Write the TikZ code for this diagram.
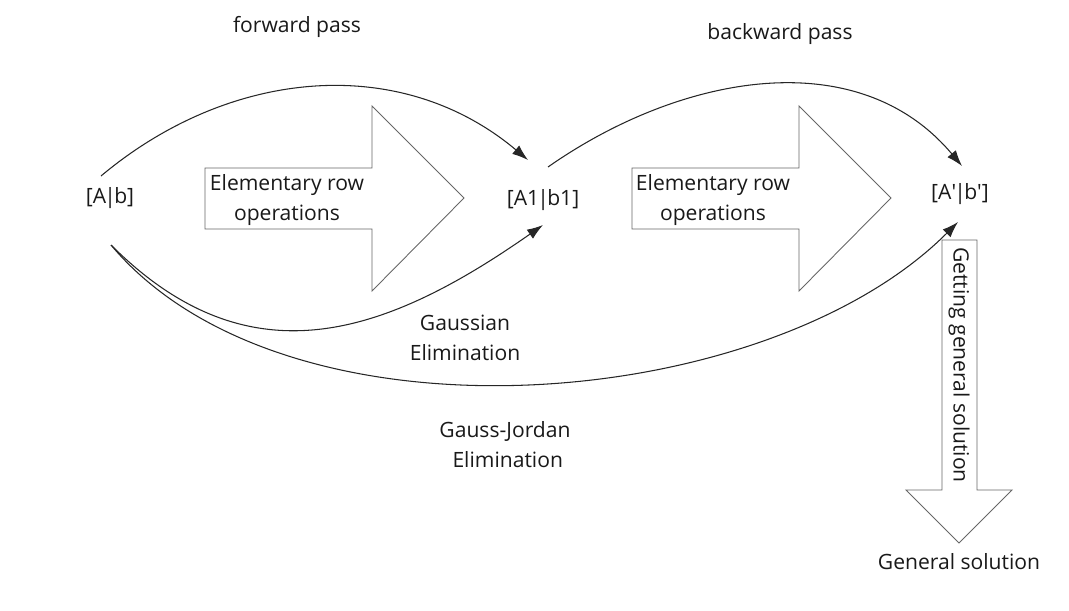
\documentclass[tikz,border=0pt]{standalone}
\usepackage{fontspec}
\setmainfont{Open Sans}
\usetikzlibrary{arrows.meta, calc}

\tikzset{
    lbl/.style={font=\fontsize{12}{17}\selectfont, text=black!90, align=center, inner sep=0pt},
    blockarrow/.style={draw=black!60, line width=0.5pt, line join=miter},
    curve/.style={draw=black!85, line width=0.6pt, -{Latex[length=3.2mm, width=2.2mm]}}
}

\begin{document}
\begin{tikzpicture}[x=0.02cm, y=0.02cm]
        \useasboundingbox (0, 0) rectangle (1069, 610);
        % matrices
        \node[lbl] (A) at (110, 412) {[A\kern-1pt|\kern-1pt b]};
        \node[lbl] (A1) at (543, 410) {[A1\kern-1pt|\kern-1pt b1]};
        \node[lbl] (Ap) at (960, 416) {[A\textquotesingle\kern-1pt|\kern-1pt b\textquotesingle]};
        \node[lbl] (fwd) at (297, 583) {forward pass};
        \node[lbl] (bwd) at (780, 576) {backward pass};
        % block arrows
        \foreach \x in {205, 632} {
            \draw[blockarrow] (\x, 442) -- (\x + 167, 442) -- (\x + 167, 504) -- (\x + 259, 412)
                -- (\x + 167, 319) -- (\x + 167, 381) -- (\x, 381) -- cycle;
        };
        \node[lbl] (row1) at (287, 410) {Elementary row\\operations};
        \node[lbl] (row2) at (713, 410) {Elementary row\\operations};
        \draw[blockarrow] (942, 370) -- (942, 120) -- (906, 120) -- (959, 67) -- (1012, 120)
            -- (977, 120) -- (977, 370) -- cycle;
        \node[lbl, rotate=-90] (get) at (959, 245) {Getting general solution};
        \node[lbl] (gen) at (959, 48) {General solution};
        % passes
        \draw[curve] ($(A) + (-9, 22)$) to[out=40, in=140] ($(A1) + (-15, 40)$);
        \draw[curve] ($(A1) + (5, 33)$) to[out=35, in=130] ($(Ap) + (2, 28)$);
        \draw[curve] ($(A) + (1, -47)$) to[out=-45, in=-145, looseness=1.15] ($(A1) + (0, -25)$);
        \draw[curve] ($(A) + (1, -47)$) to[out=-50, in=-135, looseness=0.82] ($(Ap) + (-2, -28)$);
        \node[lbl] (gauss) at (465, 272) {Gaussian\\Elimination};
        \node[lbl] (gj) at (505, 165) {Gauss-Jordan\\\ Elimination};
    \end{tikzpicture}
\end{document}
